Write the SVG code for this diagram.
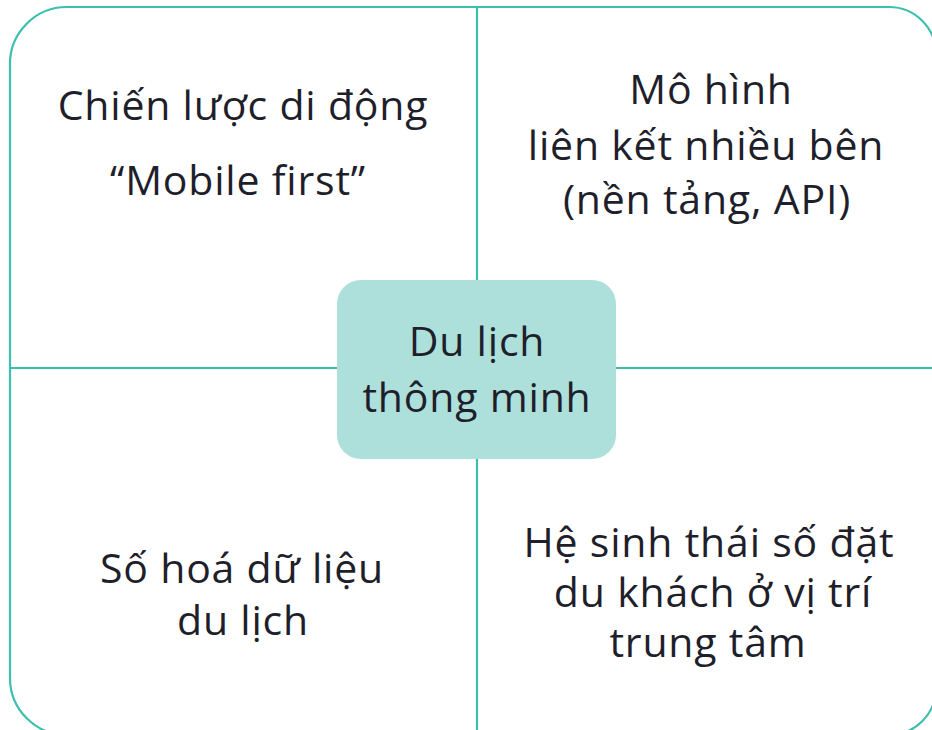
<svg xmlns="http://www.w3.org/2000/svg" width="932" height="730" viewBox="0 0 932 730">
<style>
.ln{fill:none;stroke:#3cbfae;stroke-width:2.2}
.t{font-family:"Open Sans","Noto Sans","DejaVu Sans",sans-serif;font-size:41px;letter-spacing:0.8px;fill:#1f1f2c;text-anchor:middle}
</style>
<rect width="932" height="730" fill="#ffffff"/>
<g id="connectors">
<path class="ln" d="M10,66 A57,57 0 0 1 67,7 L889,7 A47,47 0 0 1 936,54 L936,688 A47,47 0 0 1 889,735 L67,735 A57,57 0 0 1 10,678 Z"/>
<line class="ln" x1="477" y1="7" x2="477" y2="282"/>
<line class="ln" x1="477" y1="458" x2="477" y2="735"/>
<line class="ln" x1="10" y1="368" x2="338" y2="368"/>
<line class="ln" x1="615" y1="368" x2="936" y2="368"/>
</g>
<g id="center">
<rect x="337" y="280" width="279" height="179" rx="24" fill="#ade0da"/>
<text class="t" x="477" y="356">Du lịch</text>
<text class="t" x="477" y="412">thông minh</text>
</g>
<g id="top-left">
<text class="t" x="243" y="120">Chiến lược di động</text>
<text class="t" x="238" y="195">“Mobile first”</text>
</g>
<g id="top-right">
<text class="t" x="711" y="104">Mô hình</text>
<text class="t" x="706" y="160">liên kết nhiều bên</text>
<text class="t" x="707" y="214">(nền tảng, API)</text>
</g>
<g id="bottom-left">
<text class="t" x="242" y="583">Số hoá dữ liệu</text>
<text class="t" x="243" y="635">du lịch</text>
</g>
<g id="bottom-right">
<text class="t" x="709" y="557">Hệ sinh thái số đặt</text>
<text class="t" x="713" y="607">du khách ở vị trí</text>
<text class="t" x="708" y="657">trung tâm</text>
</g>
</svg>
